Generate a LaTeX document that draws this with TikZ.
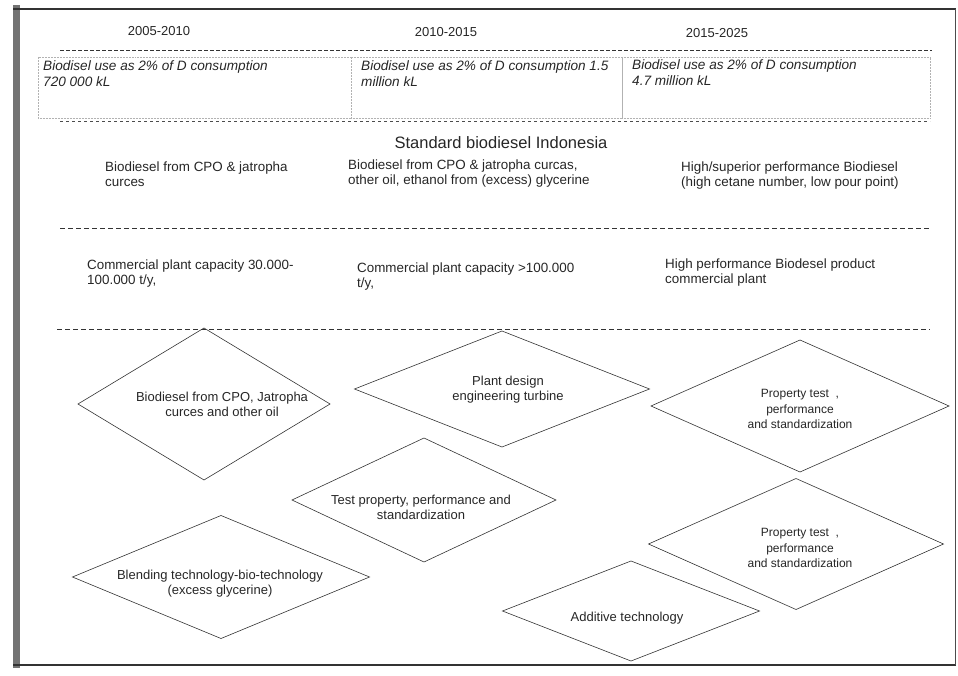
\documentclass[tikz,border=0pt]{standalone}
\usepackage{fontspec}
\setmainfont{Liberation Sans}
\usetikzlibrary{shapes.geometric}
\begin{document}
\begin{tikzpicture}[x=1pt,y=-1pt,
  txt/.style={font=\fontsize{13.4}{15}\selectfont, text=black!85, inner sep=0pt, align=left, anchor=west},
  itxt/.style={font=\fontsize{13.6}{16}\selectfont\itshape, text=black!85, inner sep=0pt, align=left, anchor=west},
  ctxt/.style={font=\fontsize{13}{15}\selectfont, text=black!85, inner sep=0pt, align=center},
  stxt/.style={font=\fontsize{12}{15.5}\selectfont, text=black!85, inner sep=0pt, align=center},
  ttl/.style={font=\fontsize{16.5}{19}\selectfont, text=black!85, inner sep=0pt},
  dia/.style={shape=diamond, draw=black!80, line width=0.6pt, inner sep=0pt, outer sep=0pt},
  rowbox/.style={draw=black!30, densely dotted, line width=0.5pt, minimum height=61pt, inner sep=0pt},
  sep/.style={draw=black!80, line width=0.8pt, dash pattern=on 5pt off 3pt},
  sepdot/.style={draw=black!70, line width=0.7pt, dash pattern=on 3pt off 3pt}
]
\useasboundingbox (0,0) rectangle (958,676);
% frame
\fill[black!55] (13,5) rectangle (20,668);
\draw[black!80, line width=1.5pt] (13,9) -- (956,9);
\draw[black!80, line width=2pt] (13,665) -- (956,665);
\draw[black!70, line width=0.8pt] (955,9) -- (955,665);

% headers
\node[ctxt] (h1) at (159,31) {2005-2010};
\node[ctxt] (h2) at (446,32) {2010-2015};
\node[ctxt] (h3) at (717,33) {2015-2025};

% separators
\coordinate (s1a) at (60,50);  \coordinate (s1b) at (932,50);
\coordinate (s2a) at (60,121); \coordinate (s2b) at (930,121);
\coordinate (s3a) at (60,228); \coordinate (s3b) at (930,228);
\coordinate (s4a) at (57,329); \coordinate (s4b) at (930,329);
\draw[sep, dash pattern=on 4pt off 2pt] (s1a) -- (s1b);
\draw[sepdot] (s2a) -- (s2b);
\draw[sep] (s3a) -- (s3b);
\draw[sep] (s4a) -- (s4b);

% row 1 boxes
\node[rowbox, minimum width=313pt] (b1) at (194.5,87.5) {};
\node[rowbox, minimum width=271pt] (b2) at (486.5,87.5) {};
\node[rowbox, minimum width=308pt] (b3) at (776,87.5) {};
\node[itxt] (r1a) at (43,74) {Biodisel use as 2\% of D consumption\\720 000 kL};
\node[itxt] (r1b) at (361,74) {Biodisel use as 2\% of D consumption 1.5\\million kL};
\node[itxt] (r1c) at (632,73) {Biodisel use as 2\% of D consumption\\4.7 million kL};

% title
\node[ttl] (title) at (501,143) {Standard biodiesel Indonesia};

% row 2
\node[txt] (r2a) at (105,174) {Biodiesel from CPO \& jatropha\\curces};
\node[txt] (r2b) at (348,174) {Biodiesel from CPO \& jatropha curcas,\\other oil, ethanol from (excess) glycerine};
\node[txt] (r2c) at (681,176) {High/superior performance Biodiesel\\(high cetane number, low pour point)};

% row 3
\node[txt] (r3a) at (87,274) {Commercial plant capacity 30.000-\\100.000 t/y,};
\node[txt] (r3b) at (357,277) {Commercial plant capacity >100.000\\t/y,};
\node[txt] (r3c) at (665,273) {High performance Biodesel product\\commercial plant};

% diamonds
\node[dia, minimum width=252pt, minimum height=152pt] (d1) at (204,404) {};
\node[ctxt] (t1) at (222,404) {Biodiesel from CPO, Jatropha\\curces and other oil};

\node[dia, minimum width=295pt, minimum height=116pt] (d2) at (502,389) {};
\node[ctxt] (t2) at (508,390) {Plant design\\engineering turbine};

\node[dia, minimum width=298pt, minimum height=132pt] (d3) at (800,406) {};
\node[stxt] (t3) at (800,409) {Property test~~,\\performance\\and standardization};

\node[dia, minimum width=264pt, minimum height=124pt] (d4) at (424,500) {};
\node[ctxt] (t4) at (421,507) {Test property, performance and\\standardization};

\node[dia, minimum width=297pt, minimum height=123pt] (d5) at (221,577) {};
\node[ctxt] (t5) at (220,584) {Blending technology-bio-technology\\(excess glycerine)};

\node[dia, minimum width=295pt, minimum height=131pt] (d6) at (796,544) {};
\node[stxt] (t6) at (800,548) {Property test~~,\\performance\\and standardization};

\node[dia, minimum width=257pt, minimum height=100pt] (d7) at (631,611) {};
\node[ctxt] (t7) at (627,618) {Additive technology};
\end{tikzpicture}
\end{document}
